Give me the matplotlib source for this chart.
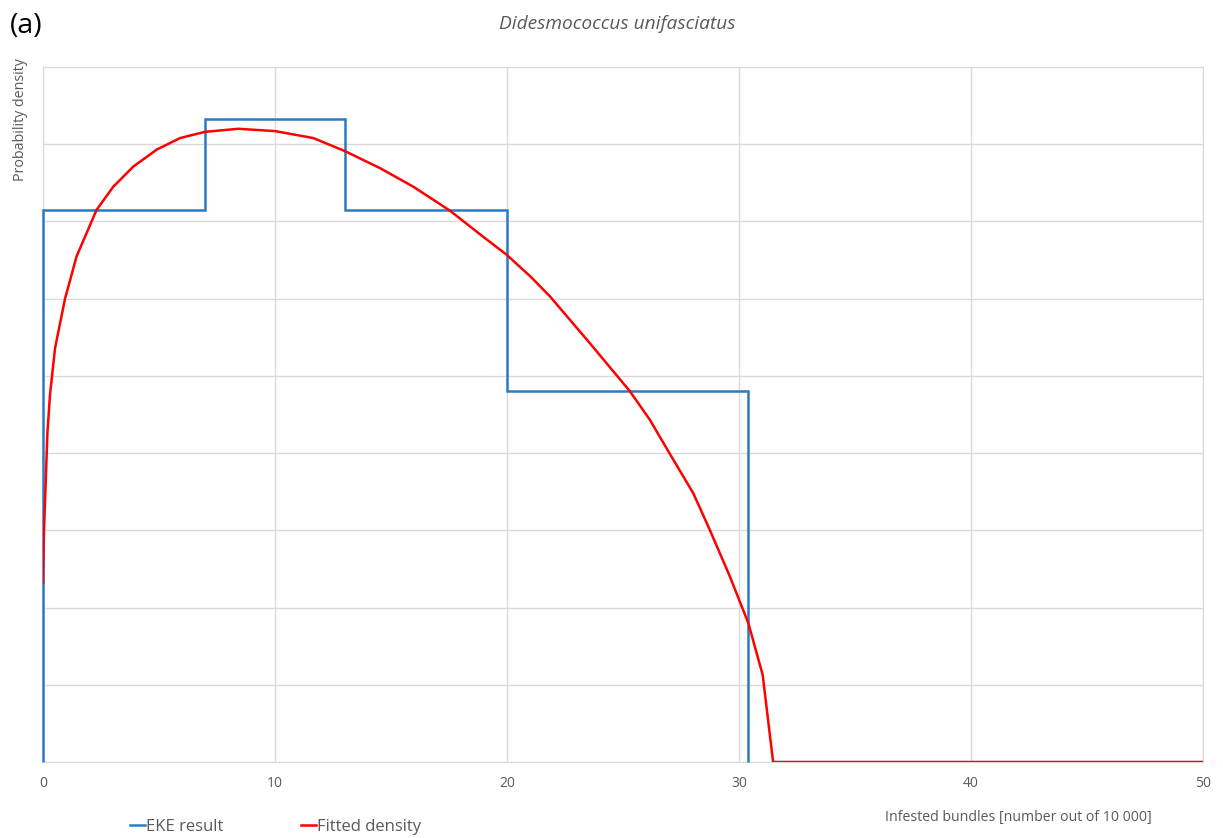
import matplotlib.pyplot as plt

plt.rcParams['font.family'] = ['Open Sans', 'DejaVu Sans']

# EKE result (step histogram)
eke_edges = [0, 7, 13, 20, 30.4]
eke_heights = [7.15, 8.33, 7.15, 4.81]

# Fitted density
fit_x = [0, 0.04, 0.09, 0.19, 0.3, 0.52, 0.95, 1.45, 2.31, 3.03, 3.89, 4.9,
         5.91, 6.98, 8.42, 10.0, 11.65, 13.02, 14.53, 15.96, 17.54,
         18.98, 19.98, 21.0, 21.85, 23.58, 25.3, 26.16, 27.0, 28.03, 28.75,
         29.61, 30.4, 31.02, 31.47, 50]
fit_y = [2.32, 2.97, 3.39, 4.26, 4.75, 5.36, 6.0, 6.55, 7.15, 7.45, 7.71, 7.93,
         8.08, 8.16, 8.20, 8.17, 8.08, 7.91, 7.69, 7.45, 7.14,
         6.80, 6.57, 6.29, 6.03, 5.42, 4.80, 4.43, 4.00, 3.48, 3.00,
         2.40, 1.80, 1.13, 0, 0]

x_ticks = [0, 10, 20, 30, 40, 50]
text_col = '#595959'
grid_col = '#d9d9d9'

fig = plt.figure(figsize=(12.23, 8.38), dpi=100)
ax = fig.add_axes([43 / 1223, 76 / 838, 1160 / 1223, 695 / 838])

ax.stairs(eke_heights, eke_edges, baseline=0, color='#2a7bc1', linewidth=1.8,
          label='EKE result', clip_on=False, zorder=3)
ax.plot(fit_x, fit_y, color='#ff0000', linewidth=1.8, label='Fitted density',
        zorder=4)

ax.set_xlim(0, 50)
ax.set_ylim(0, 9)
ax.set_xticks(x_ticks)
ax.set_yticks(range(0, 10))
ax.set_yticklabels([])
ax.tick_params(length=0, labelsize=10, labelcolor=text_col, pad=10)
ax.grid(True, color=grid_col, linewidth=1)
ax.set_axisbelow(True)
for s in ax.spines.values():
    s.set_color(grid_col)

fig.text(0.5045, 0.971, 'Didesmococcus unifasciatus', ha='center', va='center',
         fontsize=13.8, style='italic', color=text_col)
fig.text(0.008, 0.969, '(a)', ha='left', va='center', fontsize=20.5, color='black')
fig.text(0.017, 0.857, 'Probability density', rotation=90, ha='center',
         va='center', fontsize=10.3, color=text_col)
fig.text(0.8325, 0.024, 'Infested bundles [number out of 10 000]', ha='center',
         va='center', fontsize=10.2, color=text_col)

fig.legend(loc='center', bbox_to_anchor=(0.2253, 0.013), ncol=2, frameon=False,
           handlelength=0.9, handletextpad=0.1, columnspacing=4.6,
           fontsize=12, labelcolor=text_col)

fig.savefig('out.png', dpi=100)
